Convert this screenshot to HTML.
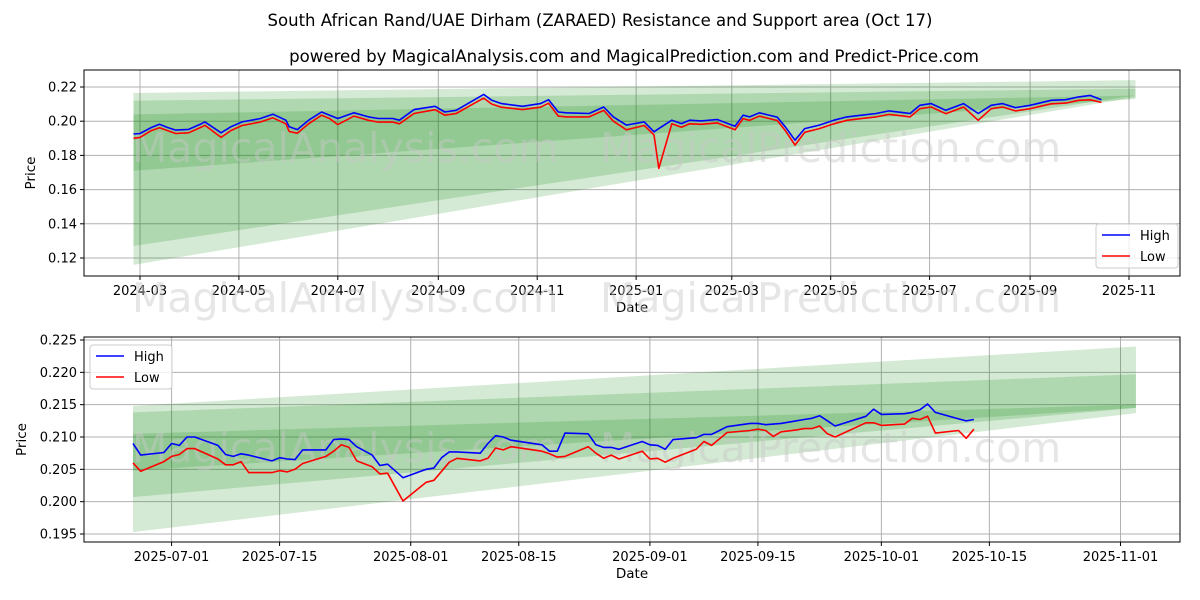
<!DOCTYPE html>
<html><head><meta charset="utf-8"><style>
html,body{margin:0;padding:0;background:#fff;}
svg{display:block;font-family:"DejaVu Sans","Liberation Sans",sans-serif;}
</style></head><body>
<svg id="chart" width="1200" height="600" viewBox="0 0 1200 600" xmlns="http://www.w3.org/2000/svg">
<text x="600" y="26" text-anchor="middle" font-size="16.5" fill="#000">South African Rand/UAE Dirham (ZARAED) Resistance and Support area (Oct 17)</text>
<text x="634" y="62" text-anchor="middle" font-size="16.6" fill="#000">powered by MagicalAnalysis.com and MagicalPrediction.com and Predict-Price.com</text>
<g id="top"></g>
<g id="bot"></g>
</svg>
<script>
// ---- Top chart data (days since 2024-03-01) ----
const topDays = [-4,0,7,12,17,22,30,38,40,50,56,63,74,82,90,92,97,104,112,117,122,132,141,147,156,160,169,182,188,195,204,212,217,223,236,247,252,258,263,277,286,292,300,311,317,320,328,334,339,346,356,367,372,376,382,393,398,404,410,419,428,436,445,454,462,471,475,481,488,497,508,517,525,532,540,549,562,571,579,586,593];
const topHigh = [0.1925,0.1928,0.1963,0.1982,0.1963,0.1948,0.1952,0.1986,0.1996,0.1932,0.1967,0.1996,0.2015,0.2041,0.2006,0.1967,0.1951,0.2006,0.2054,0.2035,0.2016,0.2049,0.2025,0.2016,0.2016,0.2006,0.2068,0.2087,0.2054,0.2064,0.2113,0.2157,0.2122,0.2103,0.2087,0.2103,0.2126,0.2054,0.2049,0.2045,0.2083,0.2025,0.1977,0.1996,0.1938,0.1957,0.2006,0.1986,0.2006,0.2002,0.2010,0.1971,0.2035,0.2025,0.2049,0.2024,0.1967,0.1889,0.1957,0.1977,0.2006,0.2025,0.2035,0.2045,0.2060,0.2050,0.2045,0.2093,0.2103,0.2064,0.2103,0.2045,0.2093,0.2103,0.2079,0.2093,0.2122,0.2126,0.2142,0.2151,0.2126];
const topLow  = [0.1900,0.1905,0.1945,0.1962,0.1945,0.1928,0.1932,0.1966,0.1976,0.1905,0.1945,0.1975,0.1995,0.2020,0.1985,0.1940,0.1930,0.1985,0.2035,0.2015,0.1980,0.2030,0.2005,0.1995,0.1995,0.1985,0.2045,0.2067,0.2035,0.2045,0.2093,0.2135,0.2100,0.2082,0.2068,0.2082,0.2105,0.2030,0.2025,0.2025,0.2063,0.2000,0.1950,0.1975,0.1920,0.1724,0.1985,0.1965,0.1985,0.1982,0.1990,0.1950,0.2015,0.2005,0.2030,0.2004,0.1945,0.1860,0.1935,0.1957,0.1985,0.2005,0.2015,0.2025,0.2040,0.2030,0.2025,0.2073,0.2083,0.2044,0.2083,0.2005,0.2073,0.2083,0.2060,0.2073,0.2102,0.2106,0.2122,0.2125,0.2110];
const topBandStart = [-4, -4, -4];
const topBandEnd = [614, 614, 614];
const topBandTopL = [0.2165, 0.2120, 0.2040];
const topBandTopR = [0.2240, 0.2190, 0.2150];
const topBandBotL = [0.1160, 0.1270, 0.1710];
const topBandBotR = [0.2140, 0.2150, 0.2130];
const topYTicks = [0.12,0.14,0.16,0.18,0.20,0.22];
const topXTickDays = [0,61,122,184,245,306,365,426,487,549,610];
const topXTickLabels = ["2024-03","2024-05","2024-07","2024-09","2024-11","2025-01","2025-03","2025-05","2025-07","2025-09","2025-11"];

// ---- Bottom chart data (days since 2025-06-26) ----
const botDays = [0,1,4,5,6,7,8,11,12,13,14,15,18,19,20,21,22,25,26,27,28,29,31,32,33,35,38,39,40,41,42,45,46,47,48,49,53,54,55,56,59,60,61,62,63,66,67,68,69,70,73,74,75,77,80,81,82,83,84,86,87,88,89,90,91,95,96,97,100,101,102,103,104,107,108,109];
const botHigh = [0.2090,0.2072,0.2076,0.2090,0.2087,0.2100,0.2100,0.2087,0.2073,0.2070,0.2074,0.2072,0.2063,0.2068,0.2066,0.2065,0.2080,0.2080,0.2096,0.2097,0.2096,0.2085,0.2072,0.2056,0.2058,0.2037,0.2050,0.2052,0.2068,0.2077,0.2077,0.2075,0.2090,0.2102,0.2100,0.2095,0.2088,0.2078,0.2078,0.2106,0.2105,0.2088,0.2084,0.2084,0.2081,0.2093,0.2088,0.2087,0.2081,0.2096,0.2099,0.2104,0.2104,0.2116,0.2121,0.2121,0.2119,0.2120,0.2121,0.2125,0.2127,0.2129,0.2133,0.2125,0.2117,0.2132,0.2143,0.2135,0.2136,0.2138,0.2142,0.2151,0.2138,0.2128,0.2125,0.2127];
const botLow = [0.2060,0.2047,0.2062,0.2070,0.2073,0.2082,0.2082,0.2066,0.2057,0.2057,0.2062,0.2045,0.2045,0.2048,0.2046,0.2050,0.2059,0.2070,0.2078,0.2088,0.2084,0.2063,0.2054,0.2043,0.2044,0.2001,0.2030,0.2033,0.2047,0.2061,0.2067,0.2063,0.2067,0.2083,0.2080,0.2085,0.2078,0.2074,0.2069,0.2070,0.2085,0.2075,0.2067,0.2072,0.2066,0.2078,0.2066,0.2067,0.2061,0.2067,0.2081,0.2093,0.2087,0.2107,0.2110,0.2112,0.2110,0.2101,0.2108,0.2111,0.2113,0.2113,0.2117,0.2105,0.2100,0.2122,0.2122,0.2118,0.2120,0.2129,0.2127,0.2132,0.2106,0.2110,0.2098,0.2112];
const botBandStart = [0, 0, 0];
const botBandEnd = [130, 130, 130];
const botBandTopL = [0.2148, 0.2138, 0.2105];
const botBandTopR = [0.2240, 0.2197, 0.2150];
const botBandBotL = [0.1953, 0.2007, 0.2048];
const botBandBotR = [0.2137, 0.2145, 0.2145];
const botYTicks = [0.195,0.200,0.205,0.210,0.215,0.220,0.225];
const botXTickDays = [5,19,36,50,67,81,97,111,128];
const botXTickLabels = ["2025-07-01","2025-07-15","2025-08-01","2025-08-15","2025-09-01","2025-09-15","2025-10-01","2025-10-15","2025-11-01"];

const NS = "http://www.w3.org/2000/svg";
function mk(parent, tag, attrs, text){
  const e = document.createElementNS(NS, tag);
  for (const k in attrs) e.setAttribute(k, attrs[k]);
  if (text !== undefined) e.textContent = text;
  parent.appendChild(e);
  return e;
}

function drawPanel(g, cfg){
  const {L,R,T,B,xs,ys} = cfg;
  const frame = mk(g,'rect',{x:L,y:T,width:R-L,height:B-T,fill:'#fff'});
  
  
  cfg.yTicks.forEach(v=>{
    const gl = mk(g,'line',{x1:L,x2:R,y1:ys(v),y2:ys(v),stroke:'#b0b0b0','stroke-width':1});
    
    
    mk(g,'line',{x1:L-4,x2:L,y1:ys(v),y2:ys(v),stroke:'#000'});
    const t = mk(g,'text',{x:L-7,y:ys(v)+4.5,'text-anchor':'end','font-size':13},v.toFixed(cfg.dec));
    
    
  });
  cfg.xTickDays.forEach((d,i)=>{
    const x = xs(d);
    const gl = mk(g,'line',{x1:x,x2:x,y1:T,y2:B,stroke:'#b0b0b0','stroke-width':1});
    
    
    mk(g,'line',{x1:x,x2:x,y1:B,y2:B+4,stroke:'#000'});
    const t = mk(g,'text',{x:x,y:B+19,'text-anchor':'middle','font-size':13},cfg.xTickLabels[i]);
    
    
  });
  cfg.bandStart.forEach((s,i)=>{
    const e = cfg.bandEnd[i];
    const pts = [[xs(s),ys(cfg.bandTopL[i])],[xs(e),ys(cfg.bandTopR[i])],[xs(e),ys(cfg.bandBotR[i])],[xs(s),ys(cfg.bandBotL[i])]];
    const p = mk(g,'polygon',{points:pts.map(q=>q.join(',')).join(' '),fill:'#008000','fill-opacity':0.17});
    
    
  });
  cfg.wm.forEach(w=>{
    const t = mk(g,'text',{x:w[0],y:w[1],'font-size':41,fill:'#c8c8c8','fill-opacity':0.45},w[2]);
    
    
  });
  const line = (vals,color,name)=>{
    const d = cfg.days.map((dd,i)=>(i?'L':'M')+xs(dd).toFixed(1)+','+ys(vals[i]).toFixed(1)).join(' ');
    const p = mk(g,'path',{d:d,fill:'none',stroke:color,'stroke-width':1.6,'stroke-linejoin':'round'});
    
    
  };
  line(cfg.high,'#0000ff','high-line');
  line(cfg.low,'#ff0000','low-line');
  const fr = mk(g,'rect',{x:L,y:T,width:R-L,height:B-T,fill:'none',stroke:'#000','stroke-width':1});
  
  
  const xl = mk(g,'text',{x:(L+R)/2,y:B+36,'text-anchor':'middle','font-size':13.5},'Date');
  
  
  const yl = mk(g,'text',{x:0,y:0,'text-anchor':'middle','font-size':13.5,transform:`translate(${cfg.yTitleX},${(T+B)/2}) rotate(-90)`},'Price');
  
  
  const [lx,ly] = cfg.legend;
  const lg = mk(g,'g',{});
  
  
  mk(lg,'rect',{x:lx,y:ly,width:82,height:44,rx:3,fill:'#fff','fill-opacity':0.8,stroke:'#cccccc'});
  [['High','#0000ff'],['Low','#ff0000']].forEach((it,i)=>{
    const e = mk(lg,'g',{});
    
    
    mk(e,'line',{x1:lx+6,x2:lx+34,y1:ly+11+i*21,y2:ly+11+i*21,stroke:it[1],'stroke-width':1.6});
    mk(e,'text',{x:lx+44,y:ly+16+i*21,'font-size':13},it[0]);
  });
}

drawPanel(document.getElementById('top'),{
  L:84,R:1180,T:70,B:276,
  xs:d=>140+d*1.6213, ys:v=>87+(0.22-v)*1710,
  yTicks:topYTicks,dec:2,xTickDays:topXTickDays,xTickLabels:topXTickLabels,
  bandStart:topBandStart,bandEnd:topBandEnd,bandTopL:topBandTopL,bandTopR:topBandTopR,bandBotL:topBandBotL,bandBotR:topBandBotR,
  days:topDays,high:topHigh,low:topLow,yTitleX:35,legend:[1096,224],
  wm:[[132,162,'MagicalAnalysis.com'],[600,162,'MagicalPrediction.com']]
});
drawPanel(document.getElementById('bot'),{
  L:84,R:1180,T:337,B:542,
  xs:d=>133+d*7.715, ys:v=>340+(0.225-v)*6467,
  yTicks:botYTicks,dec:3,xTickDays:botXTickDays,xTickLabels:botXTickLabels,
  bandStart:botBandStart,bandEnd:botBandEnd,bandTopL:botBandTopL,bandTopR:botBandTopR,bandBotL:botBandBotL,bandBotR:botBandBotR,
  days:botDays,high:botHigh,low:botLow,yTitleX:26,legend:[90,345],
  wm:[[132,462,'MagicalAnalysis.com'],[600,462,'MagicalPrediction.com'],[132,312,'MagicalAnalysis.com'],[600,312,'MagicalPrediction.com']]
});
</script>
</body></html>
